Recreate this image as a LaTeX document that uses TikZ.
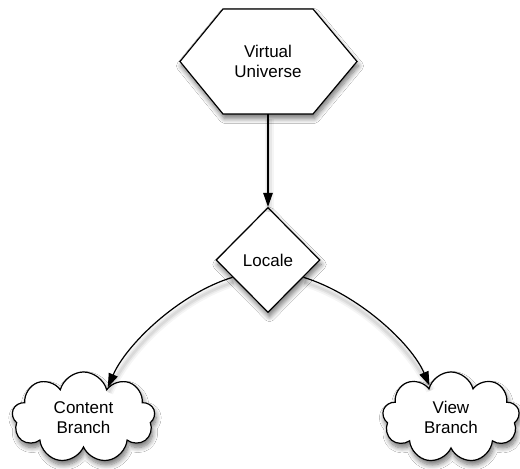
\documentclass[tikz,border=0pt]{standalone}
\usepackage{fontspec}
\setmainfont{Liberation Sans}
\usetikzlibrary{shapes.geometric,shapes.symbols,shadows.blur,arrows.meta}

\begin{document}
\begin{tikzpicture}[x=1pt,y=1pt,
  outline/.style={draw=black, line width=1.2pt, fill=white, line join=miter},
  dropshadow/.style={blur shadow={shadow xshift=1.5pt, shadow yshift=-4.5pt,
      shadow blur radius=5pt, shadow blur steps=8, shadow opacity=55}},
  txt/.style={font=\fontsize{17}{20}\selectfont, align=center, text=black},
  puff/.style={cloud, cloud puffs=9, cloud puff arc=150, cloud ignores aspect,
      minimum height=91pt, inner sep=0pt},
  link/.style={draw=black, line width=1.2pt, -{Triangle[length=14pt,width=9.5pt]},
      preaction={draw=black, -, opacity=0.04, line width=9pt, transform canvas={shift={(1,-5)}}},
      preaction={draw=black, -, opacity=0.05, line width=5.5pt, transform canvas={shift={(1,-5)}}},
      preaction={draw=black, -, opacity=0.06, line width=2.5pt, transform canvas={shift={(1,-5)}}}},
]
\fill[white] (0,0) rectangle (520,469);
\useasboundingbox (0,0) rectangle (520,469);

% top hexagon, drawn as a path with a text node on it
\path[outline, dropshadow] (180,407.5) -- (223,460) -- (313,460) -- (357,407.5)
  -- (313,355) -- (223,355) -- cycle;
\node[txt, minimum width=177pt, minimum height=105pt, inner sep=0pt] (vu) at (268,407.5)
  {Virtual\\Universe};

% diamond
\node[diamond, outline, dropshadow, txt, minimum width=104pt, minimum height=105pt,
  inner sep=0pt] (loc) at (268,209) {Locale};

% clouds
\node[puff, outline, dropshadow, txt, minimum width=143pt] (cb) at (83.5,51.5)
  {Content\\Branch};
\node[puff, outline, dropshadow, txt, minimum width=137pt] (vb) at (451,51.5)
  {View\\Branch};

% connectors
\draw[link] (vu.south) -- (loc.north);
\draw[link] (loc.206) .. controls +(-55,-17) and +(18,42) .. (cb.51);
\draw[link] (loc.334) .. controls +(55,-17) and +(-18,42) .. (vb.124);
\end{tikzpicture}
\end{document}
